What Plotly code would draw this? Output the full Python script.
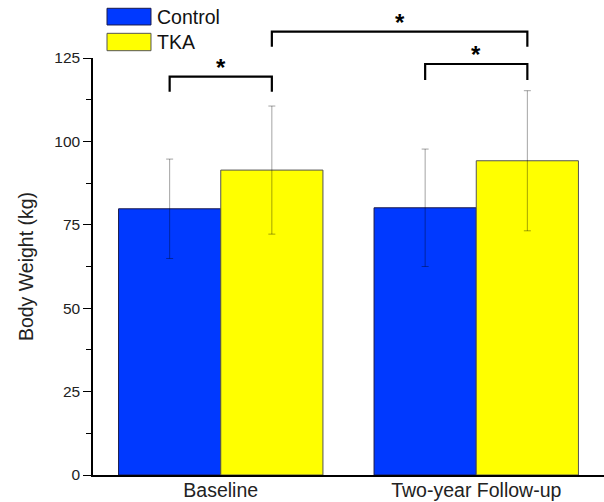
import plotly.graph_objects as go

# ---- data ----
categories = ["Baseline", "Two-year Follow-up"]
control_mean = [79.8, 80.1]
control_sd = [14.9, 17.6]
tka_mean = [91.4, 94.2]
tka_sd = [19.2, 21.0]
y_ticks = [0, 25, 50, 75, 100, 125]
# significance brackets: (x_left, x_right, level, leg_bottom_left, leg_bottom_right)
brackets = [
    (-0.2, 0.2, 119.4, 114.9, 114.9),
    (0.2, 1.2, 132.9, 128.4, 128.4),
    (0.8, 1.2, 123.2, 118.4, 118.4),
]
YMAX = 125.0

BLUE = "#0039FF"
YELLOW = "#FFFF00"
FONT = "Arial, Liberation Sans, sans-serif"

fig = go.Figure()
err_style = dict(type="data", thickness=1, width=3.5, color="rgba(0,0,0,0.36)")
fig.add_trace(go.Bar(
    x=categories, y=control_mean, name="Control",
    marker=dict(color=BLUE, line=dict(color="#1a1a4a", width=1)),
    error_y=dict(array=control_sd, **err_style),
    showlegend=False, hoverinfo="skip",
))
fig.add_trace(go.Bar(
    x=categories, y=tka_mean, name="TKA",
    marker=dict(color=YELLOW, line=dict(color="#555555", width=1)),
    error_y=dict(array=tka_sd, **err_style),
    showlegend=False, hoverinfo="skip",
))

shapes = []
annotations = []
for (xl, xr, lvl, bl, br) in brackets:
    pts = [(xl, bl), (xl, lvl), (xr, lvl), (xr, br)]
    path = "M " + " L ".join(f"{x},{y / YMAX}" for x, y in pts)
    shapes.append(dict(type="path", path=path, xref="x", yref="paper",
                       line=dict(color="black", width=2.2)))
    annotations.append(dict(x=(xl + xr) / 2, y=lvl / YMAX, xref="x", yref="paper",
                            text="<b>*</b>", showarrow=False, yanchor="bottom",
                            yshift=-6, font=dict(size=24, color="black", family=FONT)))

# custom legend (large swatches)
legend_items = [("Control", BLUE, "#1a1a4a", 1.0792, 1.1192),
                ("TKA", YELLOW, "#555555", 1.0175, 1.0592)]
for name, fill, edge, y0, y1 in legend_items:
    shapes.append(dict(type="rect", xref="paper", yref="paper",
                       x0=0.0274, x1=0.1135, y0=y0, y1=y1,
                       fillcolor=fill, line=dict(color=edge, width=1)))
    annotations.append(dict(x=0.122, y=(y0 + y1) / 2, xref="paper", yref="paper",
                            text=name, showarrow=False, xanchor="left", yanchor="middle",
                            font=dict(size=19.5, color="#111111", family=FONT)))

fig.update_layout(
    width=604, height=502,
    margin=dict(l=93, r=0, t=58, b=27, autoexpand=False),
    paper_bgcolor="white", plot_bgcolor="white",
    barmode="group", bargap=0.2, bargroupgap=0,
    font=dict(family=FONT, color="#222222"),
    shapes=shapes, annotations=annotations,
    showlegend=False, hovermode=False,
)
fig.update_xaxes(
    showline=True, linecolor="black", linewidth=1.5, ticks="",
    showgrid=False, range=[-0.5, 1.5], automargin=False, ticklabelstandoff=-3,
    tickfont=dict(size=19.5, color="#222222", family=FONT),
)
fig.update_yaxes(
    range=[0, YMAX], tickvals=y_ticks, showline=True, linecolor="black", linewidth=1.5,
    ticks="outside", ticklen=8, tickwidth=1.2, tickcolor="black",
    showgrid=False, zeroline=False, automargin=False,
    tickfont=dict(size=15.5, color="#222222", family=FONT),
    minor=dict(dtick=12.5, tick0=0, ticks="outside", ticklen=5, tickwidth=1.2, tickcolor="black"),
    title=dict(text="Body Weight (kg)", font=dict(size=19.5, color="#222222", family=FONT), standoff=15),
)

fig.write_html(
    "out.html",
    config={"displayModeBar": False},
    post_script="document.body.style.margin='0';document.body.style.overflow='hidden';",
)
